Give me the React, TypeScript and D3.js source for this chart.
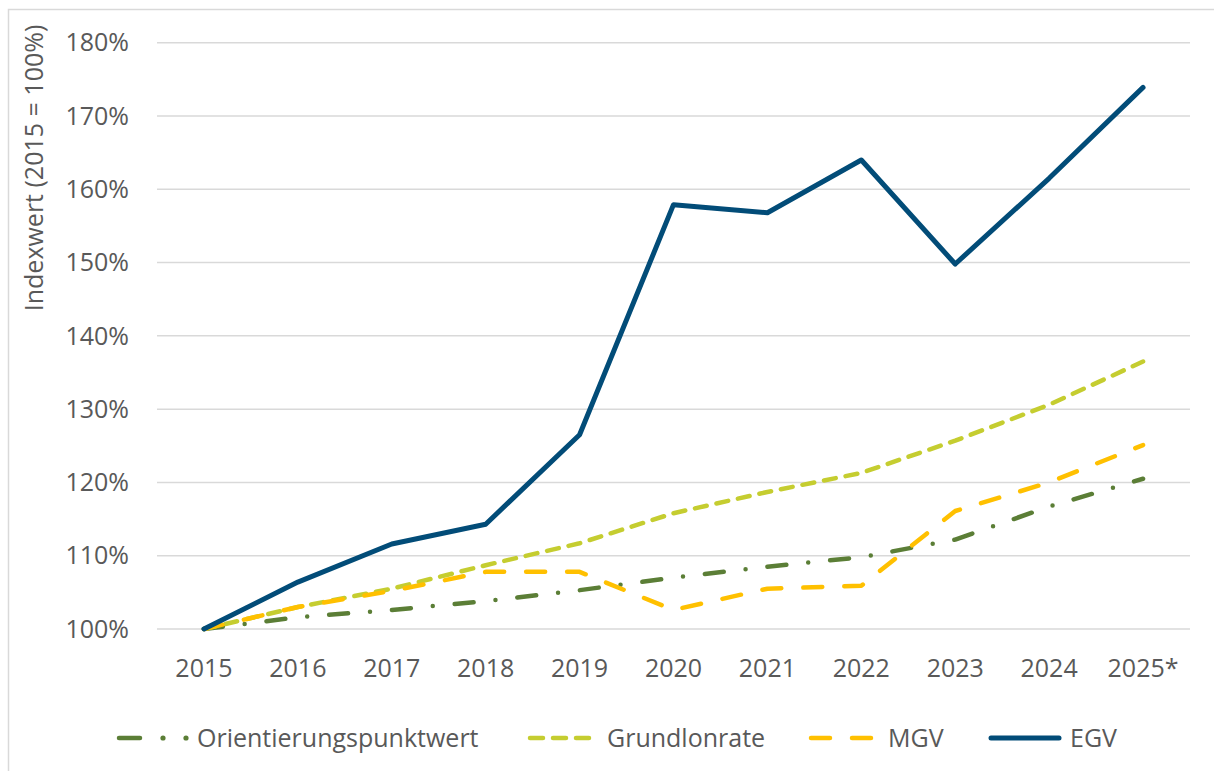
import React from "react";
import * as d3 from "d3";

const years = ["2015", "2016", "2017", "2018", "2019", "2020", "2021", "2022", "2023", "2024", "2025*"];
const orientierungspunktwert = [100, 101.6, 102.6, 103.8, 105.3, 107.0, 108.5, 109.8, 112.2, 116.7, 120.5];
const grundlonrate = [100, 103.0, 105.5, 108.7, 111.7, 115.8, 118.7, 121.3, 125.7, 130.6, 136.5];
const mgv = [100, 103.0, 105.2, 107.8, 107.8, 102.6, 105.5, 105.9, 116.1, 120.0, 125.1];
const egv = [100, 106.4, 111.6, 114.3, 126.5, 157.9, 156.8, 164.0, 149.8, 161.5, 173.9];
const yTicks = [100, 110, 120, 130, 140, 150, 160, 170, 180];
const seriesNames = ["Orientierungspunktwert", "Grundlonrate", "MGV", "EGV"];

const W = 1214;
const H = 771;
const FONT = "'Open Sans', sans-serif";
const TEXT = "#595959";
const GRID = "#d9d9d9";
const FS = 25;

const styles = [
  { color: "#5b7e36", dash: "19 22 0 22", width: 4.5 },
  { color: "#c5cd30", dash: "12 10", width: 4.5 },
  { color: "#ffc000", dash: "19 22", width: 4.5 },
  { color: "#024c78", dash: null as string | null, width: 5 },
];

export default function App() {
  const x = d3.scaleBand<string>().domain(years).range([157, 1190]);
  const y = d3.scaleLinear().domain([100, 180]).range([629, 42.7]);
  const cx = (d: string) => (x(d) as number) + x.bandwidth() / 2;
  const line = d3
    .line<number>()
    .x((_, i) => cx(years[i]))
    .y((v) => y(v));
  const data = [orientierungspunktwert, grundlonrate, mgv, egv];

  const legendX = [117, 528, 809, 989];
  const legendTextX = [197, 607, 888, 1070];
  const legendY = 738;

  return (
    <svg
      width={W}
      height={H}
      style={{ position: "absolute", left: 0, top: 0, background: "#fff" }}
      fontFamily={FONT}
    >
      <rect x={8.5} y={9.5} width={W + 10} height={H + 10} fill="#fff" stroke={GRID} strokeWidth={1.5} />
      {yTicks.map((t) => (
        <g key={t}>
          <line x1={157} x2={1190} y1={y(t)} y2={y(t)} stroke={GRID} strokeWidth={1.5} />
          <text x={129} y={y(t)} dy="0.35em" textAnchor="end" fontSize={FS} fill={TEXT}>
            {t}%
          </text>
        </g>
      ))}
      {years.map((yr) => (
        <text key={yr} x={cx(yr)} y={677} textAnchor="middle" fontSize={FS} fill={TEXT}>
          {yr}
        </text>
      ))}
      <text
        transform="translate(43,168) rotate(-90)"
        textAnchor="middle"
        fontSize={FS}
        fill={TEXT}
      >
        Indexwert (2015 = 100%)
      </text>
      {data.map((vals, i) => (
        <path
          key={seriesNames[i]}
          d={line(vals) || ""}
          fill="none"
          stroke={styles[i].color}
          strokeWidth={styles[i].width}
          strokeDasharray={styles[i].dash || undefined}
          strokeLinecap="round"
          strokeLinejoin="round"
        />
      ))}
      {seriesNames.map((name, i) => {
        const x0 = legendX[i];
        const s = styles[i];
        let sym: React.ReactNode;
        if (i === 0) {
          sym = (
            <g>
              <line x1={x0 + 2} x2={x0 + 23} y1={legendY} y2={legendY} stroke={s.color} strokeWidth={s.width} strokeLinecap="round" />
              <circle cx={x0 + 46} cy={legendY} r={2.6} fill={s.color} />
              <circle cx={x0 + 69} cy={legendY} r={2.6} fill={s.color} />
            </g>
          );
        } else if (i === 1) {
          sym = (
            <line x1={x0 + 2} x2={x0 + 64} y1={legendY} y2={legendY} stroke={s.color} strokeWidth={s.width} strokeLinecap="round" strokeDasharray="13 10" />
          );
        } else if (i === 2) {
          sym = (
            <line x1={x0 + 2} x2={x0 + 64} y1={legendY} y2={legendY} stroke={s.color} strokeWidth={s.width} strokeLinecap="round" strokeDasharray="19 22" />
          );
        } else {
          sym = (
            <line x1={x0 + 2} x2={x0 + 70} y1={legendY} y2={legendY} stroke={s.color} strokeWidth={s.width} strokeLinecap="round" />
          );
        }
        return (
          <g key={name}>
            {sym}
            <text x={legendTextX[i]} y={legendY} dy="0.35em" fontSize={FS} fill={TEXT}>
              {name}
            </text>
          </g>
        );
      })}
    </svg>
  );
}
